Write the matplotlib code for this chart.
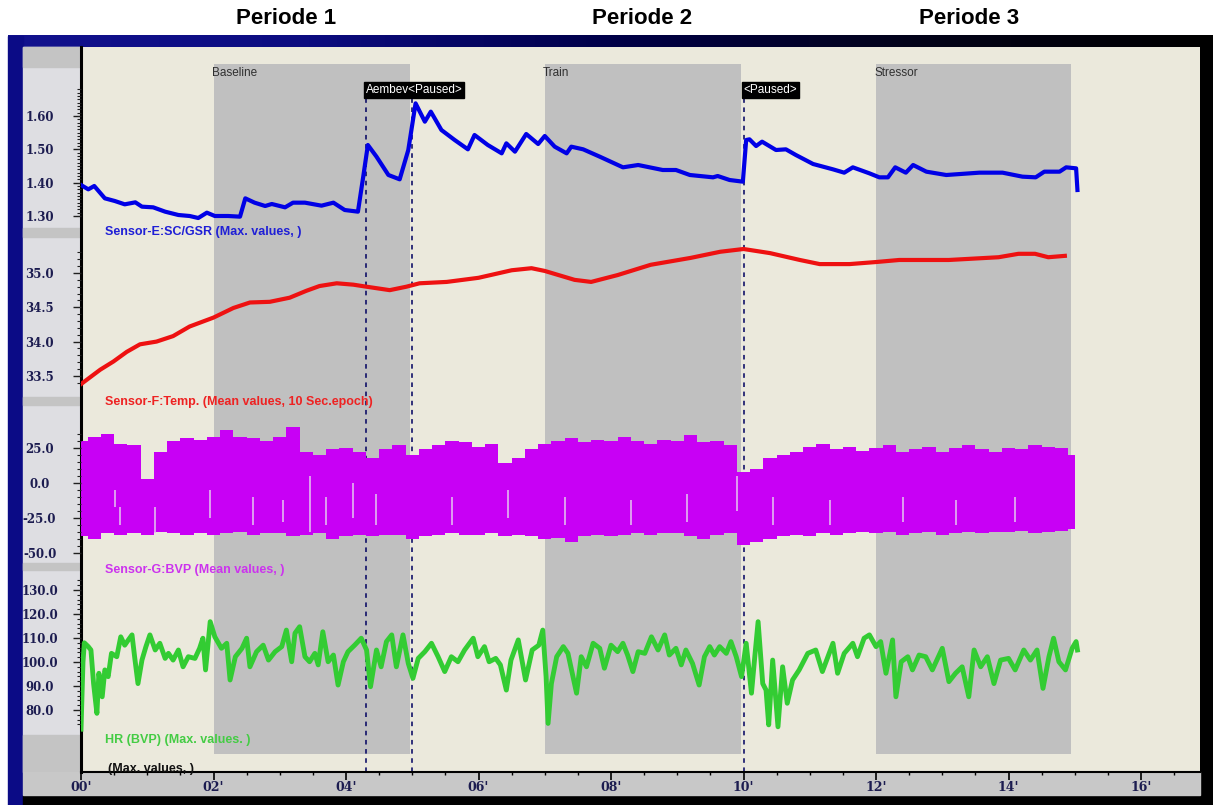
import numpy as np
import matplotlib.pyplot as plt
from matplotlib.colors import LinearSegmentedColormap
from matplotlib.patches import Rectangle

# ---- data (minutes, values) ----
gsr_t = [0.00, 0.11, 0.20, 0.36, 0.51, 0.66, 0.82, 0.92, 1.09, 1.27, 1.47, 1.64, 1.77, 1.90,
         2.02, 2.22, 2.40, 2.48, 2.62, 2.78, 2.88, 3.08, 3.20, 3.38, 3.63, 3.81, 3.98, 4.18,
         4.26, 4.33, 4.46, 4.64, 4.81, 4.94, 5.05, 5.19, 5.28, 5.44, 5.64, 5.84, 5.94, 6.14,
         6.35, 6.42, 6.55, 6.72, 6.90, 7.00, 7.15, 7.33, 7.40, 7.58, 7.83, 8.18, 8.41, 8.78,
         8.98, 9.19, 9.54, 9.61, 9.79, 9.99, 10.04, 10.09, 10.19, 10.28, 10.49, 10.64, 10.79,
         11.05, 11.35, 11.52, 11.65, 11.90, 12.05, 12.18, 12.29, 12.45, 12.56, 12.76, 13.06,
         13.56, 13.91, 14.21, 14.41, 14.54, 14.77, 14.87, 15.02, 15.04]
gsr_v = [1.393, 1.380, 1.390, 1.353, 1.345, 1.335, 1.341, 1.328, 1.326, 1.313, 1.303, 1.300,
         1.294, 1.310, 1.300, 1.300, 1.298, 1.353, 1.340, 1.330, 1.336, 1.326, 1.340, 1.340,
         1.331, 1.340, 1.318, 1.313, 1.418, 1.513, 1.478, 1.423, 1.410, 1.498, 1.638, 1.583,
         1.613, 1.558, 1.528, 1.500, 1.543, 1.513, 1.488, 1.518, 1.493, 1.546, 1.516, 1.540,
         1.508, 1.488, 1.508, 1.500, 1.478, 1.446, 1.453, 1.438, 1.438, 1.423, 1.416, 1.420,
         1.408, 1.403, 1.528, 1.530, 1.510, 1.523, 1.498, 1.500, 1.483, 1.456, 1.440, 1.430,
         1.446, 1.428, 1.416, 1.416, 1.446, 1.430, 1.453, 1.433, 1.423, 1.430, 1.430, 1.418,
         1.416, 1.433, 1.433, 1.446, 1.443, 1.378]

temp_t = [0.00, 0.29, 0.49, 0.69, 0.89, 1.14, 1.39, 1.64, 2.00, 2.30, 2.55, 2.85, 3.15, 3.40,
          3.60, 3.86, 4.11, 4.31, 4.66, 4.91, 5.11, 5.52, 6.00, 6.50, 6.80, 7.00, 7.45, 7.70,
          8.10, 8.60, 9.20, 9.65, 10.00, 10.40, 10.85, 11.15, 11.60, 12.00, 12.35, 13.10,
          13.85, 14.15, 14.40, 14.60, 14.85]
temp_v = [33.38, 33.59, 33.71, 33.85, 33.96, 34.00, 34.08, 34.22, 34.35, 34.49, 34.57, 34.58,
          34.64, 34.74, 34.81, 34.85, 34.83, 34.80, 34.75, 34.80, 34.85, 34.87, 34.93, 35.04,
          35.07, 35.03, 34.90, 34.87, 34.97, 35.12, 35.22, 35.31, 35.35, 35.29, 35.19, 35.13,
          35.13, 35.16, 35.19, 35.19, 35.23, 35.28, 35.28, 35.23, 35.25]

# BVP drawn as its upper / lower envelope, one pair every 0.2 min
bvp_t = np.linspace(0, 15, 76)
bvp_high = [30, 33, 35, 28, 27, 3, 22, 30, 32, 31,
            33, 38, 33, 32, 30, 33, 40, 22, 20, 24,
            25, 22, 18, 24, 27, 20, 24, 27, 30, 29,
            26, 28, 14, 18, 24, 28, 30, 32, 29, 31,
            30, 33, 30, 28, 31, 30, 34, 29, 30, 27,
            8, 10, 18, 20, 22, 26, 28, 24, 26, 23,
            25, 27, 22, 24, 26, 22, 25, 27, 24, 22,
            25, 24, 27, 26, 25, 20]
bvp_low = [-38, -40, -36, -37, -36, -37, -35, -36, -37, -36,
           -37, -36, -35, -37, -36, -36, -38, -37, -36, -40,
           -38, -37, -38, -37, -37, -40, -38, -37, -36, -37,
           -37, -36, -38, -37, -38, -40, -39, -42, -38, -37,
           -38, -37, -36, -37, -36, -36, -38, -40, -37, -36,
           -44, -42, -40, -38, -37, -38, -36, -37, -36, -35,
           -36, -35, -37, -36, -35, -37, -36, -35, -36, -35,
           -35, -34, -36, -35, -34, -33]
# narrow light streaks inside the BVP band: (minute, top value, bottom value)
bvp_gaps = [(0.51, -5, -17), (0.59, -17, -30), (1.12, -17, -36), (1.95, -5, -25),
            (2.6, -10, -30), (3.05, -12, -28), (3.45, 5, -35), (3.7, -10, -30),
            (4.1, 0, -25), (4.45, -8, -30), (5.6, -10, -30), (6.45, -5, -25),
            (7.3, -10, -30), (8.3, -12, -30), (9.15, -8, -28), (9.9, 5, -20),
            (10.45, -10, -30), (11.3, -12, -30), (12.4, -10, -28), (13.2, -12, -30),
            (14.1, -10, -28)]

hr_t = [0.00, 0.03, 0.05, 0.11, 0.15, 0.19, 0.24, 0.27, 0.32, 0.36, 0.41, 0.46, 0.54, 0.60,
        0.66, 0.71, 0.77, 0.81, 0.86, 0.92, 0.98, 1.04, 1.12, 1.19, 1.27, 1.32, 1.39, 1.47,
        1.54, 1.62, 1.72, 1.79, 1.84, 1.88, 1.95, 2.02, 2.12, 2.20, 2.25, 2.33, 2.43, 2.50,
        2.55, 2.65, 2.75, 2.83, 2.93, 3.03, 3.10, 3.18, 3.23, 3.30, 3.38, 3.45, 3.53, 3.58,
        3.65, 3.73, 3.81, 3.88, 3.96, 4.03, 4.13, 4.23, 4.31, 4.37, 4.46, 4.53, 4.61, 4.69,
        4.76, 4.86, 4.94, 5.01, 5.09, 5.19, 5.29, 5.39, 5.49, 5.59, 5.69, 5.79, 5.92, 5.99,
        6.09, 6.16, 6.26, 6.33, 6.42, 6.49, 6.60, 6.71, 6.81, 6.91, 6.97, 7.02, 7.05, 7.10,
        7.18, 7.28, 7.35, 7.48, 7.55, 7.63, 7.73, 7.83, 7.90, 8.00, 8.10, 8.18, 8.25, 8.33,
        8.41, 8.51, 8.61, 8.71, 8.81, 8.88, 8.98, 9.06, 9.13, 9.23, 9.33, 9.41, 9.49, 9.56,
        9.64, 9.74, 9.81, 9.89, 9.97, 10.04, 10.12, 10.17, 10.22, 10.29, 10.34, 10.38, 10.44,
        10.52, 10.59, 10.66, 10.74, 10.84, 10.97, 11.09, 11.19, 11.35, 11.42, 11.52, 11.65,
        11.72, 11.82, 11.90, 12.00, 12.07, 12.15, 12.25, 12.30, 12.38, 12.48, 12.55, 12.65,
        12.75, 12.85, 13.00, 13.10, 13.20, 13.30, 13.40, 13.48, 13.58, 13.68, 13.78, 13.88,
        14.00, 14.10, 14.23, 14.33, 14.43, 14.52, 14.61, 14.68, 14.76, 14.86, 14.96, 15.02,
        15.04]
hr_v = [72, 100, 108, 106.4, 105, 91, 78.6, 95.3, 85.5, 96.7, 93.9, 103.6, 102.2, 110.5,
        107, 109, 111.3, 102, 91, 100.8, 106.4, 111.3, 105, 107.8, 101.5, 103.6, 100.8, 105,
        98, 102.2, 101.5, 105.7, 109.9, 96.7, 116.8, 110.5, 105.7, 107.8, 92.5, 102.2, 105.7,
        109.9, 98, 104.3, 107, 100.8, 104.3, 106.4, 113.3, 100.1, 112, 114.7, 102.2, 100.1,
        103.6, 98.8, 112.6, 100.1, 102.9, 90.4, 100.1, 104.3, 107, 109.9, 105, 89.7, 105, 98,
        108.5, 111.3, 98, 111.3, 99.4, 93.2, 101.5, 104.3, 107.8, 102.2, 96, 102.2, 100.1, 105,
        109.9, 102.2, 106.4, 100.1, 101.5, 98.8, 88.3, 100.8, 109.2, 92.5, 105, 107, 113.3,
        93.9, 74.4, 91, 102.2, 106.4, 103.6, 87, 102.2, 98, 107.8, 105.7, 97.4, 107, 104.3,
        107.8, 102.9, 96, 104.3, 103.6, 110.5, 105, 111.3, 102.9, 105.7, 98.8, 105, 99.4, 90.4,
        102.2, 106.4, 102.9, 106.4, 103.6, 108.5, 102.2, 93.9, 107.8, 87, 102.2, 116.8, 91,
        88.3, 73.8, 100.8, 73, 98, 82.8, 92.5, 96.7, 103.6, 105, 96, 107.8, 95.3, 103.6, 107.8,
        102.2, 109.9, 111.3, 106.4, 108.5, 95.3, 109.2, 85.5, 100.1, 102.2, 96.7, 102.9, 102.2,
        96.7, 105.7, 91.8, 95.3, 98, 85.5, 105, 98, 102.2, 91, 100.8, 101.5, 96.7, 105, 100.8,
        105, 89, 102.2, 109.9, 100.1, 96.7, 105.7, 108.5, 105]

phases = [("Baseline", 2.0, 4.96), ("Train", 7.0, 9.96), ("Stressor", 12.0, 14.95)]
markers = [(4.3, "Aembev<Paused>"), (5.0, None), (10.0, "<Paused>")]
periods = ["Periode 1", "Periode 2", "Periode 3"]
x_ticks = [0, 2, 4, 6, 8, 10, 12, 14, 16]
x_labels = ["00'", "02'", "04'", "06'", "08'", "10'", "12'", "14'", "16'"]

# ---- layout (pixel boxes of the screenshot) ----
W, H = 1213, 805
XMAX = 16.89


def box(x0, y0, x1, y1):
    return [x0 / W, 1 - y1 / H, (x1 - x0) / W, (y1 - y0) / H]


fig = plt.figure(figsize=(W / 100, H / 100), dpi=100)
fig.patch.set_facecolor('white')

# window frame
canvas = fig.add_axes([0, 0, 1, 1], zorder=0)
cmap = LinearSegmentedColormap.from_list(
    'frame', ['#12128e', '#0c0c80', '#000048', '#03031a', '#000000'])
canvas.imshow(np.linspace(0, 1, 512).reshape(1, -1), cmap=cmap,
              extent=(8, W, H, 36), aspect='auto')
canvas.set_xlim(0, W)
canvas.set_ylim(H, 0)
canvas.axis('off')
canvas.add_patch(Rectangle((8, 36), 15, H - 36, color='#0b0b86'))
canvas.add_patch(Rectangle((23, 795), W - 23, 10, color='black'))
canvas.add_patch(Rectangle((23, 47), 58, 725, color='#dedee2'))
for y0, y1 in [(47, 67), (228, 237), (397, 405), (563, 570), (735, 772)]:
    canvas.add_patch(Rectangle((23, y0), 58, y1 - y0, color='#c4c4c4'))
canvas.add_patch(Rectangle((23, 772), 1177, 23, color='#c8c8c8'))

# main plotting area
ax = fig.add_axes(box(81, 47, 1200, 772), zorder=1, facecolor='#ebe9dc')
ax.set_xlim(0, XMAX)
ax.set_ylim(0, 1)
for name, a, b in phases:
    ax.axvspan(a, b, ymin=18 / 725, ymax=708 / 725, color='#c0c0c0', lw=0)
    ax.text(a - 0.03, 699 / 725, name, ha='left', va='center', fontsize=8.5,
            family='Liberation Sans', color='#303030')
for xm, lab in markers:
    ax.axvline(xm, ymin=0, ymax=675 / 725, color='#000060', lw=1.1, ls=(0, (3, 3)))
    if lab:
        ax.text(xm, 682 / 725, lab, ha='left', va='center', fontsize=8.5,
                family='Liberation Sans', color='white',
                bbox=dict(boxstyle='square,pad=0.15', fc='black', ec='black'))
for s in ['top', 'right']:
    ax.spines[s].set_visible(False)
ax.spines['left'].set_linewidth(2.2)
ax.spines['bottom'].set_linewidth(1.5)
ax.set_yticks([])
ax.set_xticks(x_ticks)
ax.set_xticklabels(x_labels, family='DejaVu Serif', fontweight='bold', fontsize=9,
                   color='#1c1c50')
ax.set_xticks(np.arange(0, 16.9, 0.5), minor=True)
ax.tick_params(axis='x', which='major', direction='out', length=5.8, width=1.2, pad=1)
ax.tick_params(axis='x', which='minor', direction='out', length=2.2, width=1)

# one axes per signal
panels = [
    (box(81, 67, 1200, 228), (1.264, 1.747), [1.3, 1.4, 1.5, 1.6], '%.2f',
     np.arange(1.30, 1.685, 0.01)),
    (box(81, 237, 1200, 397), (33.192, 35.525), [33.5, 34.0, 34.5, 35.0], '%.1f',
     np.arange(33.4, 35.35, 0.1)),
    (box(81, 405, 1200, 563), (-57.14, 55.71), [-50, -25, 0, 25], '%.1f',
     np.arange(-50, 36, 5)),
    (box(81, 570, 1200, 735), (69.58, 138.33), [80, 90, 100, 110, 120, 130], '%.1f',
     np.arange(74, 135, 2)),
]
axs = []
for rect, ylim, major, fmt, minor in panels:
    a = fig.add_axes(rect, zorder=2)
    a.patch.set_alpha(0)
    a.set_xlim(0, XMAX)
    a.set_ylim(*ylim)
    for s in a.spines.values():
        s.set_visible(False)
    a.set_xticks([])
    a.set_yticks(major)
    a.set_yticklabels([fmt % v for v in major], family='DejaVu Serif', fontweight='bold',
                      fontsize=8.5, color='#1c1c50', ha='center')
    a.set_yticks(minor, minor=True)
    a.tick_params(axis='y', which='major', direction='out', length=5.8, width=1,
                  pad=24, color='#202020')
    a.tick_params(axis='y', which='minor', direction='out', length=2.9, width=0.8,
                  color='#202020')
    axs.append(a)

axs[0].plot(gsr_t, gsr_v, color='#0000e6', lw=3)
axs[1].plot(temp_t, temp_v, color='#ee1111', lw=3)
axs[2].fill_between(bvp_t, bvp_low, bvp_high, step='mid', color='#c800f5', lw=0)
axs[2].vlines([g[0] for g in bvp_gaps], [g[2] for g in bvp_gaps],
              [g[1] for g in bvp_gaps], color='#e2b8f0', lw=1.2)
axs[3].plot(hr_t, hr_v, color='#33cc33', lw=3.5)

# overlay text
top = fig.add_axes([0, 0, 1, 1], zorder=10)
top.set_xlim(0, W)
top.set_ylim(H, 0)
top.axis('off')
top.patch.set_alpha(0)
series_names = [("Sensor-E:SC/GSR (Max. values, )", '#1f1fd6', 232, 105),
                ("Sensor-F:Temp. (Mean values, 10 Sec.epoch)", '#ee2222', 402, 105),
                ("Sensor-G:BVP (Mean values, )", '#cc33ee', 570, 105),
                ("HR (BVP) (Max. values. )", '#44cc44', 740, 105),
                ("(Max. values, )", '#111111', 769, 108)]
for txt, col, y, x in series_names:
    top.text(x, y, txt, color=col, fontsize=9, fontweight='bold',
             family='Liberation Sans', va='center', ha='left')
for txt, xc in zip(periods, [286, 642, 969]):
    top.text(xc, 18, txt, fontsize=16, fontweight='bold', family='Liberation Sans',
             ha='center', va='center', color='black')

fig.savefig('out.png', dpi=100, facecolor='white')
